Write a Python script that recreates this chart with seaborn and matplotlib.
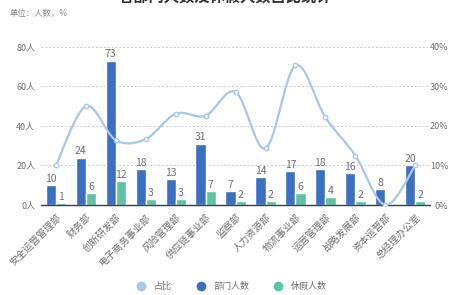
import numpy as np
import pandas as pd
import matplotlib
matplotlib.use('Agg')
import matplotlib.pyplot as plt
from matplotlib.path import Path
from matplotlib.patches import PathPatch
from matplotlib.lines import Line2D
import seaborn as sns

# ---------------- data ----------------
depts = ['安全运营管理部', '财务部', '创新研发部', '电子商务事业部', '风险管理部', '供应链事业部',
         '监察部', '人力资源部', '物流事业部', '运营管理部', '战略发展部', '资本运营部', '总经理办公室']
staff = [10, 24, 73, 18, 13, 31, 7, 14, 17, 18, 16, 8, 20]
leave = [1, 6, 12, 3, 3, 7, 2, 2, 6, 4, 2, 0, 2]
ratio = [10.0, 25.0, 16.4, 16.7, 23.1, 22.6, 28.6, 14.3, 35.3, 22.2, 12.5, 0.0, 10.0]

c_staff = '#3b6fc2'
c_leave = '#5ec3a3'
c_ratio = '#a9c6ec'
txt = '#707070'

sns.set_theme(style='white')
plt.rcParams['font.family'] = ['Noto Sans CJK SC', 'DejaVu Sans']

df = pd.DataFrame({'部门': depts * 2,
                   '人数': staff + leave,
                   '类型': ['部门人数'] * len(depts) + ['休假人数'] * len(depts)})

fig = plt.figure(figsize=(4.5, 2.95), dpi=100)
ax = fig.add_axes([0.091, 0.305, 0.865, 0.536])

sns.barplot(data=df, x='部门', y='人数', hue='类型', palette=[c_staff, c_leave],
            width=0.68, ax=ax, legend=False, saturation=1)

for cont in ax.containers:
    labs = [str(int(v)) if v > 0 else '' for v in cont.datavalues]
    ax.bar_label(cont, labels=labs, fontsize=7.5, color=txt, padding=1)

ax.set_ylim(0, 80)
ax.set_xlim(-0.5, len(depts) - 0.5)
ax.set_yticks([0, 20, 40, 60, 80])
ax.set_yticklabels([f'{v}人' for v in [0, 20, 40, 60, 80]], fontsize=6.5, color=txt)
ax.set_xlabel('')
ax.set_ylabel('')
ax.set_xticks(range(len(depts)))
ax.set_xticklabels(depts, rotation=45, ha='right', rotation_mode='anchor', fontsize=7, color=txt)
ax.tick_params(axis='x', length=2, color='#2c3e66', pad=3)
ax.tick_params(axis='y', length=0, pad=4)
for y in [20, 40, 60, 80]:
    ax.axhline(y, color='#cccccc', lw=0.7, ls=(0, (2, 2)), zorder=0)
for s in ['top', 'right', 'left']:
    ax.spines[s].set_visible(False)
ax.spines['bottom'].set_color('#2c3e66')
ax.spines['bottom'].set_linewidth(1.0)

# ---------------- ratio line (smooth) ----------------
ax2 = ax.twinx()
ax2.set_ylim(0, 40)
ax2.set_yticks([0, 10, 20, 30, 40])
ax2.set_yticklabels([f'{v}%' for v in [0, 10, 20, 30, 40]], fontsize=6.5, color=txt, ha='right')
ax2.tick_params(axis='y', length=0, pad=13)
for s in ['top', 'right', 'left', 'bottom']:
    ax2.spines[s].set_visible(False)

xs = np.arange(len(ratio), dtype=float)
ys = np.array(ratio)
verts = [(xs[0], ys[0])]
codes = [Path.MOVETO]
for i in range(len(xs) - 1):
    p0 = max(i - 1, 0)
    p3 = min(i + 2, len(xs) - 1)
    c1 = (xs[i] + (xs[i + 1] - xs[p0]) / 6, ys[i] + (ys[i + 1] - ys[p0]) / 6)
    c2 = (xs[i + 1] - (xs[p3] - xs[i]) / 6, ys[i + 1] - (ys[p3] - ys[i]) / 6)
    verts += [c1, c2, (xs[i + 1], ys[i + 1])]
    codes += [Path.CURVE4] * 3
ax2.add_patch(PathPatch(Path(verts, codes), fill=False, edgecolor=c_ratio, lw=1.6, zorder=3))
sns.scatterplot(x=xs, y=ys, ax=ax2, s=10, color='white', edgecolor=c_ratio, linewidth=1, zorder=4)

# ---------------- texts / legend ----------------
fig.text(0.022, 0.945, '单位：人数，%', fontsize=6, color='#888888')
# title sits mostly above the canvas, as in the reference crop
fig.text(0.5, 1.012, '各部门人数及休假人数占比统计', fontsize=11, color='#333333',
         ha='center', va='center', fontweight='bold')

handles = [Line2D([], [], marker='o', ls='', color=c, markersize=6) for c in [c_ratio, c_staff, c_leave]]
fig.legend(handles, ['占比', '部门人数', '休假人数'], loc='center', bbox_to_anchor=(0.51, 0.03),
           ncol=3, frameon=False, fontsize=6.5, handletextpad=0.4, columnspacing=2.2,
           labelcolor=txt)

fig.savefig('out.png', dpi=100)
